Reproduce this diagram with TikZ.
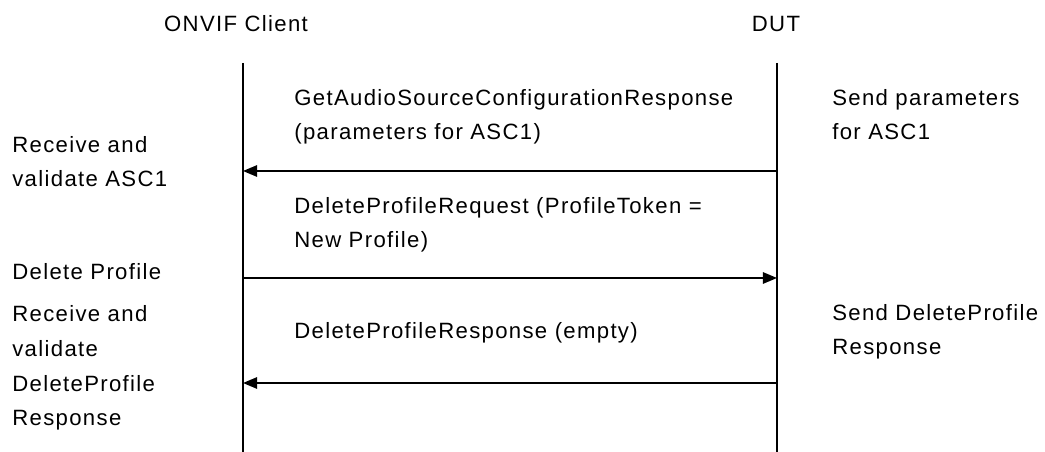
\documentclass[tikz,border=0pt]{standalone}
\usepackage{fontspec}
\setmainfont{Liberation Sans}[LetterSpace=6]
\usetikzlibrary{arrows.meta}

\begin{document}
\begin{tikzpicture}[x=0.02cm,y=-0.02cm]
	\begin{scope}[>={Triangle[length=8pt,width=6.5pt]}, line join=round, font=\fontsize{12.6}{19.8}\selectfont]
	\useasboundingbox (0,0) rectangle (1045,452);

	\tikzset{lbl/.style={anchor=base west,align=left,inner sep=0pt},
		life/.style={line width=1.1pt},
		msg/.style={->,line width=0.9pt}}

	% headings and lifelines
	\node[inner sep=0pt,anchor=base] (client) at (236,32) {ONVIF Client};
	\node[inner sep=0pt,anchor=base] (dut) at (776,32) {DUT};
	\coordinate (ctop) at (243,63);
	\coordinate (cbot) at (243,452);
	\coordinate (dtop) at (777,63);
	\coordinate (dbot) at (777,452);
	\draw[life] (ctop) -- (cbot);
	\draw[life] (dtop) -- (dbot);

	\foreach \n/\y in {1/171,2/278,3/383}
	{
		\coordinate (c\n) at (243,\y);
		\coordinate (d\n) at (777,\y);
	}
	\draw[msg] (d1) -- (c1);
	\draw[msg] (c2) -- (d2);
	\draw[msg] (d3) -- (c3);

	% messages (base = last line)
	\node[lbl] (msg1) at (294,140) {GetAudioSourceConfigurationResponse\\(parameters for ASC1)};
	\node[lbl] (msg2) at (294,248) {DeleteProfileRequest (ProfileToken =\\New Profile)};
	\node[lbl] (msg3) at (294,339) {DeleteProfileResponse (empty)};

	% client side
	\node[lbl] (recv1) at (12,187) {Receive and\\validate ASC1};
	\node[lbl] (del) at (12,280) {Delete Profile};
	\node[lbl] (recv2) at (12,426) {Receive and\\validate\\DeleteProfile\\Response};

	% device side
	\node[lbl] (send1) at (832,140) {Send parameters\\for ASC1};
	\node[lbl] (send2) at (832,355) {Send DeleteProfile\\Response};

	\end{scope}
\end{tikzpicture}
\end{document}
